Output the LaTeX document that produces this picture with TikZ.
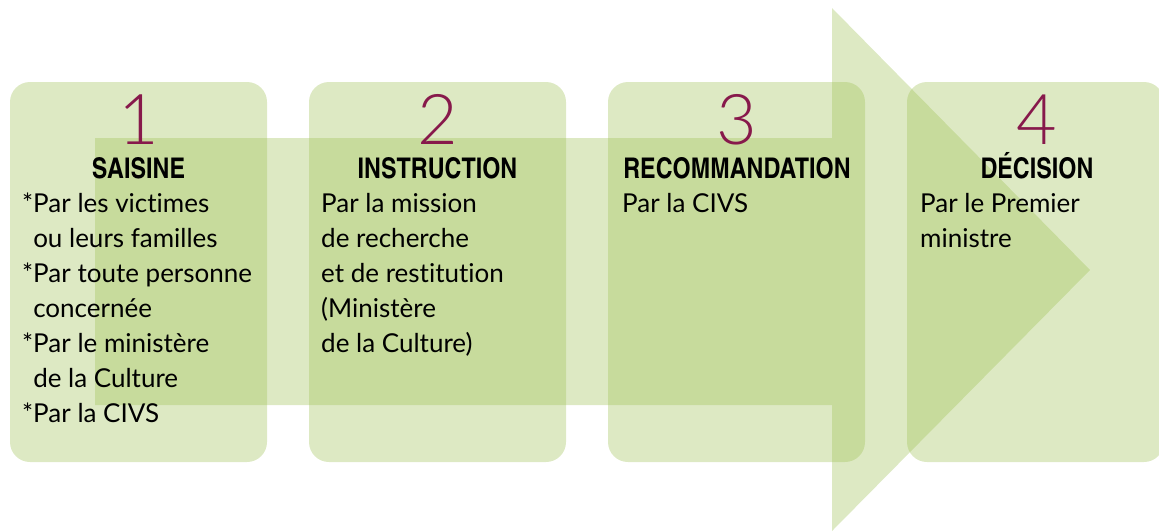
\documentclass[tikz,border=0pt]{standalone}
\usepackage{fontspec}
\setmainfont{Lato}[Ligatures=NoCommon]
\newfontfamily\titlefont{texgyreheroscn-bold.otf}
\newfontfamily\numfont{Lato Light}
\usetikzlibrary{positioning}

\definecolor{stepgreen}{RGB}{158,192,84}
\definecolor{stepred}{RGB}{135,25,75}

\tikzset{
	stepbox/.style={fill=stepgreen, fill opacity=.35, rounded corners=20pt,
		minimum width=257pt, minimum height=380pt, inner sep=0pt},
	stepnum/.style={text=stepred, font=\numfont\fontsize{70}{70}\selectfont, anchor=base, inner sep=0pt},
	steptitle/.style={font=\titlefont\fontsize{28.5}{28.5}\selectfont, anchor=base, inner sep=0pt},
	% base = baseline of the last line
	stepbody/.style={font=\fontsize{26}{35}\selectfont, align=left, anchor=base west, inner sep=0pt}
}

\begin{document}
\begin{tikzpicture}[x=1pt, y=-1pt]
	\useasboundingbox (0,0) rectangle (1159,531);
	% the big arrow behind the four steps
	\fill[stepgreen, fill opacity=.35] (95,138) -- (832,138) -- (832,8) -- (1090,270)
		-- (832,531) -- (832,405) -- (95,405) -- cycle;
	% steps
	\node[stepbox] (saisine) at (138.5,272) {};
	\node[stepbox] (instruction) at (437.5,272) {};
	\node[stepbox] (recommandation) at (736.5,272) {};
	\node[stepbox] (decision) at (1035.5,272) {};
	% numbers
	\node[stepnum] (n1) at (138.5,144) {1};
	\node[stepnum] (n2) at (437.5,144) {2};
	\node[stepnum] (n3) at (736.5,144) {3};
	\node[stepnum] (n4) at (1036.5,144) {4};
	% titles
	\node[steptitle] (t1) at (138.5,178) {SAISINE};
	\node[steptitle] (t2) at (437.5,178) {INSTRUCTION};
	\node[steptitle] (t3) at (737,178) {RECOMMANDATION};
	\node[steptitle] (t4) at (1037,178) {DÉCISION};
	% texts, first line at 212, 35pt apart
	\node[stepbody] (b1) at (22,422) {*Par les victimes\\\phantom{*}ou leurs familles\\*Par toute personne\\\phantom{*}concernée\\*Par le ministère\\\phantom{*}de la Culture\\*Par la CIVS};
	\node[stepbody] (b2) at (321,352) {Par la mission\\de recherche\\et de restitution\\(Ministère\\de la Culture)};
	\node[stepbody] (b3) at (622,212) {Par la CIVS};
	\node[stepbody] (b4) at (920,247) {Par le Premier\\ministre};
\end{tikzpicture}
\end{document}
